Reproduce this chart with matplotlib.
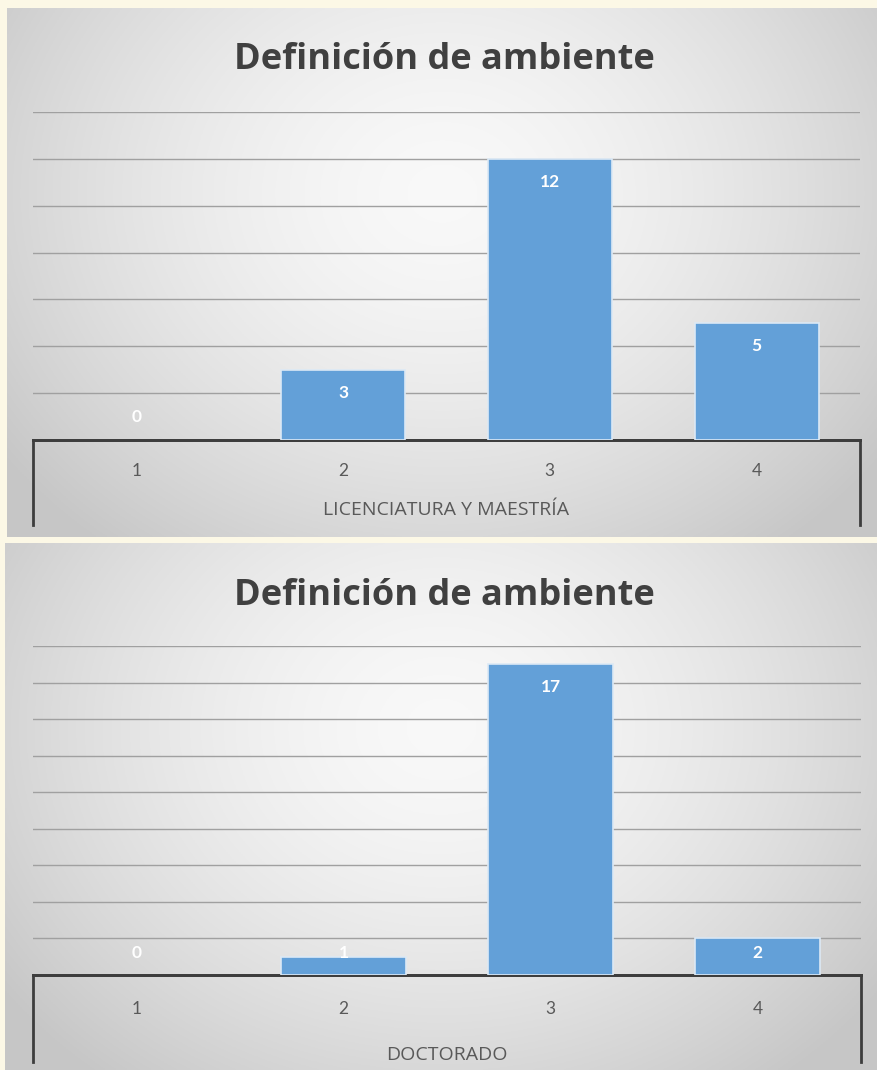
import numpy as np
import matplotlib
matplotlib.use("Agg")
import matplotlib.pyplot as plt

# ---- data ----
categories = ["1", "2", "3", "4"]
values_lic = [0, 3, 12, 5]
values_doc = [0, 1, 17, 2]
title = "Definición de ambiente"
xlabel_lic = "LICENCIATURA Y MAESTRÍA"
xlabel_doc = "DOCTORADO"

W, H = 878, 1070
BEIGE = "#fcf8e6"
BAR = "#63a0d8"
GRID = "#a0a0a0"
FRAME = "#3d3d3d"
TXT = "#595959"
TITLE = "#404040"


def px_box(x0, y0, x1, y1):
    return [x0 / W, 1 - y1 / H, (x1 - x0) / W, (y1 - y0) / H]


def gradient_panel(fig, box):
    ax = fig.add_axes(px_box(*box), zorder=0)
    ny, nx = 300, 400
    yy, xx = np.mgrid[0:1:ny * 1j, 0:1:nx * 1j]
    r = np.sqrt(((xx - 0.5) / 0.62) ** 2 + ((yy - 0.35) / 0.85) ** 2)
    r = np.clip(r, 0, 1) ** 1.6
    c0 = np.array([0.975, 0.975, 0.975])
    c1 = np.array([0.78, 0.78, 0.78])
    img = c0[None, None, :] * (1 - r[..., None]) + c1[None, None, :] * r[..., None]
    ax.imshow(img, extent=[0, 1, 0, 1], aspect="auto", origin="upper")
    ax.set_axis_off()
    return ax


def bar_chart(fig, panel, plot, box_bottom, values, ymax, xlabel, title_y,
              tick_pad, label_pad):
    gradient_panel(fig, panel)

    x0, y0, x1, y1 = plot
    ax = fig.add_axes(px_box(*plot), zorder=2)
    ax.patch.set_alpha(0)
    x = np.arange(1, len(categories) + 1)

    lw = [1.2 if v > 0 else 0 for v in values]
    ax.bar(x, values, width=0.6, color=BAR, edgecolor="#dce9f5",
           linewidth=lw, zorder=3)
    ax.set_xlim(0.5, len(categories) + 0.5)
    ax.set_ylim(0, ymax)
    ax.set_yticks(np.arange(2, ymax + 1, 2))
    ax.yaxis.grid(True, color=GRID, linewidth=1.0, zorder=1)
    ax.set_axisbelow(True)
    ax.tick_params(axis="y", left=False, labelleft=False)
    ax.tick_params(axis="x", bottom=False, pad=tick_pad, labelsize=12.5,
                   labelcolor=TXT)
    ax.set_xticks(x)
    ax.set_xticklabels(categories, fontfamily="Lato")
    ax.set_xlabel(xlabel, fontsize=14, color=TXT, labelpad=label_pad,
                  fontfamily="Open Sans")
    for s in ["top", "left", "right"]:
        ax.spines[s].set_visible(False)
    ax.spines["bottom"].set_color(FRAME)
    ax.spines["bottom"].set_linewidth(2.0)

    # data labels: inside end, pushed above axis for short bars
    ppu = (y1 - y0) / ymax
    for xi, v in zip(x, values):
        h = max(v * ppu - 23, 22.5) / ppu
        ax.text(xi, h, str(v), ha="center", va="center", color="white",
                fontsize=12.5, fontweight="bold", fontfamily="Lato", zorder=4)

    # category box below axis
    bx = fig.add_axes(px_box(x0, y1, x1, box_bottom), zorder=1)
    bx.patch.set_alpha(0)
    bx.set_xticks([])
    bx.set_yticks([])
    bx.spines["bottom"].set_visible(False)
    for s in ["top", "left", "right"]:
        bx.spines[s].set_color(FRAME)
        bx.spines[s].set_linewidth(2.0)

    fig.text(444 / W, 1 - title_y / H, title, ha="center", va="center",
             fontsize=26, fontweight="bold", color=TITLE,
             fontfamily="Open Sans", zorder=5)
    return ax


fig = plt.figure(figsize=(W / 100, H / 100), dpi=100, facecolor=BEIGE)

bar_chart(fig, (7, 8, 878, 537), (33, 112, 860, 440), 525, values_lic, 14,
          xlabel_lic, 60, 13, 16)
bar_chart(fig, (5, 543, 878, 1070), (33, 646, 861, 975), 1062, values_doc, 18,
          xlabel_doc, 596, 15, 21)

fig.savefig("out.png", dpi=100, facecolor=BEIGE)
